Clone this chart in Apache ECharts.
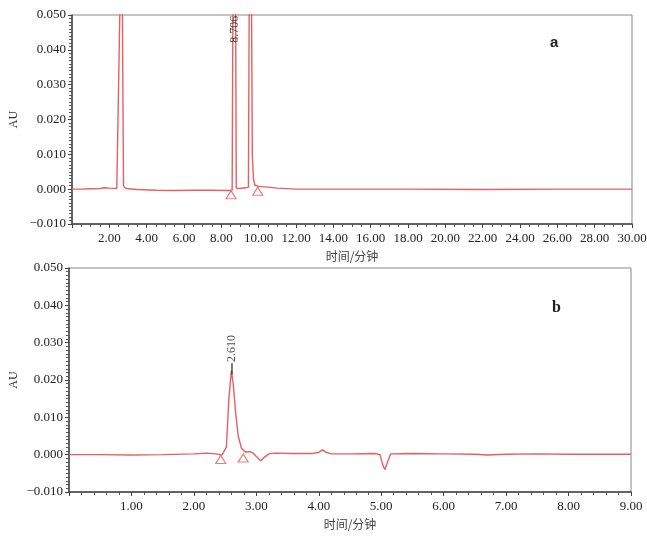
<!DOCTYPE html>
<html>
<head>
<meta charset="utf-8">
<script src="https://cdn.jsdelivr.net/npm/echarts@6.0.0/dist/echarts.min.js"></script>
<style>
  html, body { margin: 0; padding: 0; background: #fff; }
  #chart { width: 647px; height: 542px; }
</style>
</head>
<body>
<div id="chart"></div>
<script>
// chromatogram a (0-30 min)
const timeA = [0, 0.5, 1.0, 1.5, 1.75, 1.85, 2.0, 2.4, 2.5, 2.56, 2.62, 2.7, 2.76, 2.85, 3.0, 3.5, 4.5, 5.5, 6.5, 7.5, 8.3, 8.58, 8.64, 8.706, 8.76, 8.8, 9.0, 9.3, 9.45, 9.5, 9.56, 9.62, 9.66, 9.72, 9.8, 10.0, 10.5, 11.0, 12.0, 14.0, 18.0, 22.0, 26.0, 30.0];
const auA   = [0.0000, 0.0000, 0.0001, 0.0002, 0.0004, 0.0005, 0.0003, 0.0002, 0.0003, 0.05, 0.09, 0.05, 0.001, 0.0003, 0.0001, -0.0001, -0.0003, -0.0004, -0.0003, -0.0003, -0.0004, -0.0003, 0.08, 0.12, 0.06, 0.0003, 0.0002, 0.0004, 0.0005, 0.06, 0.12, 0.05, 0.01, 0.003, 0.0012, 0.0008, 0.0006, 0.0003, 0.0000, 0.0000, 0.0000, -0.0001, 0.0000, 0.0000];
const marksA = [[8.52, -0.0016], [9.95, -0.0006]];
const peakLabelA = [8.706, 0.042];

// chromatogram b (0-9 min)
const timeB = [0, 0.5, 1.0, 1.5, 2.0, 2.2, 2.35, 2.45, 2.48, 2.52, 2.56, 2.6, 2.63, 2.67, 2.71, 2.76, 2.82, 2.9, 2.95, 3.0, 3.07, 3.12, 3.2, 3.3, 3.6, 3.9, 4.0, 4.06, 4.12, 4.2, 4.5, 4.9, 4.98, 5.03, 5.06, 5.1, 5.15, 5.5, 6.0, 6.5, 6.7, 7.0, 7.5, 8.0, 9.0];
const auB   = [0.0000, 0.0000, -0.0001, 0.0000, 0.0002, 0.0004, 0.0002, -0.0001, 0.0003, 0.002, 0.015, 0.0225, 0.019, 0.011, 0.005, 0.0018, 0.0007, 0.0008, 0.0004, -0.0005, -0.0016, -0.0008, 0.0002, 0.0004, 0.0003, 0.0003, 0.0006, 0.0013, 0.0006, 0.0002, 0.0002, 0.0003, 0.0000, -0.003, -0.004, -0.002, 0.0002, 0.0003, 0.0002, 0.0001, -0.0001, 0.0001, 0.0002, 0.0001, 0.0001];
const marksB = [[2.43, -0.0013], [2.79, -0.0009]];
const peakTickB = [[2.61, 0.0215], [2.61, 0.0245]];
const peakLabelB = [2.61, 0.0248];

const yTicks = { min: -0.01, max: 0.05, interval: 0.01 };
const xNameText = '时间/分钟';
const yNameText = 'AU';

const chart = echarts.init(document.getElementById('chart'));
const RED = '#e75f61';
const SERIF = '"Liberation Serif", "DejaVu Serif", serif';

const fmtY = (v) => (v < 0 ? '\u2212' : '') + Math.abs(v).toFixed(3);
const fmtX = (v) => (v === 0 ? '' : v.toFixed(2));

function yAxisFor(gridIndex, nameGap) {
  return {
    gridIndex, type: 'value', min: yTicks.min, max: yTicks.max, interval: yTicks.interval,
    name: yNameText, nameLocation: 'middle', nameGap, nameRotate: 90, nameMoveOverlap: false,
    nameTextStyle: { fontFamily: SERIF, fontSize: 12, color: '#333' },
    axisLine: { show: true, lineStyle: { color: '#444', width: 1.5 } },
    axisTick: { show: true, length: 4, lineStyle: { color: '#444' } },
    minorTick: { show: true, splitNumber: 10, length: 3, lineStyle: { color: '#555' } },
    splitLine: { show: false },
    axisLabel: { formatter: fmtY, fontFamily: SERIF, fontSize: 13, color: '#222', margin: 6 },
  };
}

function xAxisFor(gridIndex, max, interval, minorSplit) {
  return {
    gridIndex, type: 'value', min: 0, max, interval,
    name: xNameText, nameLocation: 'middle', nameGap: 26,
    nameTextStyle: { fontFamily: '"Noto Sans CJK SC", sans-serif', fontSize: 12, color: '#444' },
    axisLine: { show: true, onZero: false, lineStyle: { color: '#444', width: 1.5 } },
    axisTick: { show: true, length: 4, lineStyle: { color: '#444' } },
    minorTick: { show: true, splitNumber: minorSplit, length: 3, lineStyle: { color: '#555' } },
    splitLine: { show: false },
    axisLabel: { formatter: fmtX, fontFamily: SERIF, fontSize: 13, color: '#222', margin: 8 },
  };
}

const pairs = (xs, ys) => xs.map((x, i) => [x, ys[i]]);

const traceStyle = { color: RED, width: 1.4 };
const triangleSeries = (idx, data) => ({
  type: 'scatter', xAxisIndex: idx, yAxisIndex: idx, data,
  symbol: 'triangle', symbolSize: [10, 8],
  itemStyle: { color: 'rgba(255,255,255,0)', borderColor: RED, borderWidth: 1.2 },
  z: 5,
});
const labelSeries = (idx, point) => ({
  type: 'scatter', xAxisIndex: idx, yAxisIndex: idx, data: [point],
  symbolSize: 0,
  label: {
    show: true, formatter: () => point[0].toFixed(3), position: 'top', distance: 0,
    rotate: 90, align: 'left', verticalAlign: 'middle',
    fontFamily: SERIF, fontSize: 12, color: '#222',
  },
  z: 6,
});

chart.setOption({
  animation: false,
  title: [
    { text: 'a', left: 545, top: 30, textStyle: { fontFamily: '"Liberation Sans", sans-serif', fontWeight: 'bold', fontSize: 15, color: '#222' } },
    { text: 'b', left: 547, top: 295, textStyle: { fontFamily: SERIF, fontWeight: 'bold', fontSize: 16, color: '#222' } },
  ],
  grid: [
    { left: 72, top: 15, right: 15, height: 209, show: true, borderColor: '#888', borderWidth: 1, outerBoundsMode: 'none', containLabel: false },
    { left: 69, top: 268, right: 16, height: 224, show: true, borderColor: '#888', borderWidth: 1, outerBoundsMode: 'none', containLabel: false },
  ],
  xAxis: [xAxisFor(0, 30, 2, 4), xAxisFor(1, 9, 1, 5)],
  yAxis: [yAxisFor(0, 52), yAxisFor(1, 49)],
  series: [
    { type: 'line', xAxisIndex: 0, yAxisIndex: 0, data: pairs(timeA, auA), showSymbol: false, lineStyle: traceStyle, clip: true },
    triangleSeries(0, marksA),
    labelSeries(0, peakLabelA),
    { type: 'line', xAxisIndex: 1, yAxisIndex: 1, data: pairs(timeB, auB), showSymbol: false, lineStyle: traceStyle, clip: true },
    { type: 'line', xAxisIndex: 1, yAxisIndex: 1, data: peakTickB, showSymbol: false, lineStyle: { color: '#222', width: 1.2 } },
    triangleSeries(1, marksB),
    labelSeries(1, peakLabelB),
  ],
});
</script>
</body>
</html>
